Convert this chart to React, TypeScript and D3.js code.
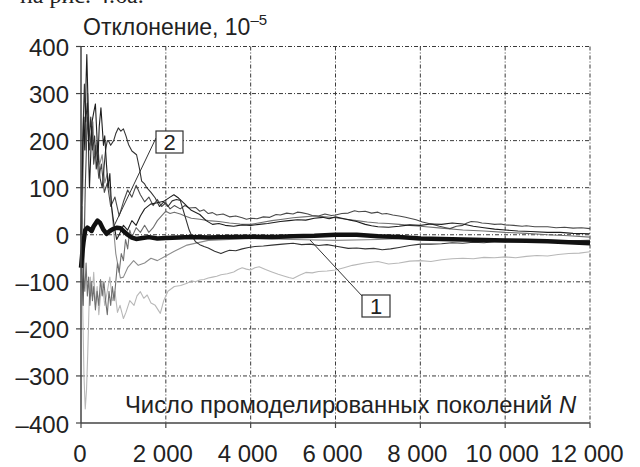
import React from "react";
import * as d3 from "d3";

type P = [number, number];

const xTicks = [0, 2000, 4000, 6000, 8000, 10000, 12000];
const xTickLabels = ["0", "2 000", "4 000", "6 000", "8 000", "10 000", "12 000"];
const yTicks = [400, 300, 200, 100, 0, -100, -200, -300, -400];
const yTickLabels = ["400", "300", "200", "100", "0", "–100", "–200", "–300", "–400"];

// Curve 1: thick line (average)
const seriesThick: P[] = [
  [0, -70], [30, -40], [60, -15], [100, 10], [150, 15], [200, 12], [250, 8], [300, 18], [390, 30], [450, 25],
  [520, 12], [600, 2], [680, 8], [750, 12], [850, 15], [930, 14], [1000, 8], [1100, 0], [1200, -6], [1300, -9],
  [1450, -7], [1600, -5], [1800, -8], [2000, -7], [2300, -6], [2600, -5], [3000, -6], [3500, -5], [4000, -4],
  [4500, -5], [5000, -3], [5500, -2], [6000, 0], [6500, 0], [7000, -3], [7500, -5], [8000, -8], [8500, -9],
  [9000, -10], [9500, -11], [10000, -12], [10500, -13], [11000, -14], [11500, -16], [12000, -18],
];

const seriesA: P[] = [
  [0, 0], [30, 120], [60, 250], [90, 180], [120, 330], [137, 383], [160, 300], [185, 150], [200, 100], [230, 170],
  [260, 240], [300, 260], [340, 278], [370, 220], [400, 160], [430, 230], [470, 270], [500, 230], [530, 190],
  [560, 210], [600, 150], [640, 100], [680, 130], [720, 60], [780, 20], [840, -10], [900, 0], [1000, 20],
  [1100, 10], [1200, 30], [1300, 20], [1400, 40], [1500, 55], [1640, 65], [1800, 68], [1950, 71], [2100, 80],
  [2190, 85], [2300, 78], [2450, 65], [2600, 52], [2800, 43], [2950, 30], [3100, 22], [3250, 24], [3400, 20],
  [3600, 18], [3800, 21], [4000, 20], [4200, 22], [4400, 24], [4550, 26], [4700, 28], [4900, 30], [5100, 32],
  [5300, 31], [5500, 35], [5700, 37], [5850, 34], [6000, 38], [6200, 34], [6350, 31], [6500, 28], [6700, 22],
  [6850, 19], [7000, 17], [7250, 16], [7500, 18], [7750, 21], [8000, 20], [8250, 23], [8500, 22], [8750, 25],
  [9000, 23], [9250, 18], [9500, 15], [9750, 12], [10000, 10], [10300, 8], [10600, 7], [11000, 5], [11300, 5],
  [11600, 3], [12000, 2],
];

const seriesB: P[] = [
  [0, 0], [40, 200], [80, 320], [110, 240], [150, 280], [190, 200], [230, 250], [270, 180], [320, 210],
  [360, 140], [400, 170], [450, 120], [500, 100], [540, 140], [580, 180], [620, 200], [650, 199], [700, 190],
  [770, 200], [820, 215], [880, 227], [940, 220], [1000, 225], [1060, 210], [1120, 192], [1200, 178],
  [1310, 170], [1380, 140], [1430, 114], [1500, 108], [1550, 100], [1650, 90], [1750, 78], [1850, 60],
  [1950, 70], [2050, 60], [2150, 72], [2250, 75], [2340, 73], [2450, 40], [2550, 10], [2600, 0], [2700, -15],
  [2800, -21], [2900, -25], [3000, -28], [3150, -35], [3300, -40], [3400, -36], [3500, -33], [3650, -34],
  [3800, -30], [3950, -27], [4100, -25], [4300, -24], [4500, -22], [4750, -20], [5000, -18], [5200, -21],
  [5400, -20], [5600, -23], [5800, -21], [6050, -25], [6300, -29], [6500, -28], [6700, -30], [6900, -29],
  [7100, -32], [7300, -30], [7500, -27], [7750, -23], [8000, -20], [8250, -20], [8500, -19], [8750, -17],
  [9000, -18], [9250, -16], [9500, -17], [9750, -15], [10000, -15], [10500, -14], [11000, -13], [11500, -13],
  [12000, -12],
];

const seriesE: P[] = [
  [0, 0], [50, -150], [100, 100], [150, 250], [200, 180], [260, 230], [300, 150], [350, 190], [420, 120],
  [480, 150], [550, 90], [620, 110], [700, 60], [800, 80], [900, 40], [1000, 70], [1100, 95], [1200, 80],
  [1300, 105], [1400, 85], [1500, 70], [1600, 80], [1700, 62], [1800, 75], [1900, 60], [2000, 68], [2100, 55],
  [2200, 62], [2340, 55], [2450, 62], [2550, 57], [2700, 58], [2800, 50], [2900, 53], [3000, 45], [3100, 47],
  [3200, 42], [3350, 44], [3500, 38], [3650, 40], [3800, 36], [3900, 33], [4000, 35], [4150, 34], [4300, 38],
  [4450, 37], [4600, 43], [4700, 42], [4850, 46], [5000, 44], [5100, 48], [5200, 47], [5350, 44], [5450, 41],
  [5600, 40], [5750, 44], [5900, 41], [6000, 42], [6150, 45], [6300, 46], [6450, 51], [6550, 49], [6700, 50],
  [6850, 46], [7000, 48], [7100, 44], [7200, 45], [7350, 42], [7500, 40], [7650, 37], [7800, 34], [7900, 32],
  [8050, 27], [8200, 24], [8300, 22], [8450, 18], [8600, 15], [8700, 13], [8850, 18], [9000, 20], [9100, 25],
  [9200, 28], [9350, 27], [9450, 25], [9600, 24], [9750, 22], [9900, 23], [10000, 21], [10200, 20], [10400, 18],
  [10500, 19], [10700, 17], [11000, 17], [11200, 15], [11400, 16], [11600, 14], [11800, 15], [12000, 13],
];

const seriesF: P[] = [
  [0, 0], [30, 60], [60, -80], [90, -120], [120, -60], [150, -130], [180, -90], [210, -150], [240, -100],
  [270, -140], [300, -110], [340, -160], [380, -120], [420, -150], [460, -95], [500, -130], [540, -100],
  [580, -140], [620, -170], [660, -120], [700, -150], [740, -110], [780, -140], [820, -100], [860, -60],
  [900, -80], [950, -40], [1000, -55], [1050, -10], [1100, -30], [1150, 10], [1200, -5], [1300, 15],
  [1400, 5], [1500, 20], [1600, 5], [1700, 15], [1800, 30], [1900, 40], [2000, 50], [2100, 45], [2200, 48],
  [2340, 44], [2450, 40], [2600, 35], [2800, 33], [3000, 30], [3250, 28], [3500, 25], [3750, 23], [4000, 22],
  [4250, 26], [4500, 30], [4750, 33], [5000, 36], [5250, 38], [5500, 40], [5750, 38], [6000, 36], [6250, 33],
  [6500, 30], [6750, 27], [7000, 25], [7250, 24], [7500, 22], [7750, 20], [8000, 18], [8500, 14], [9000, 10],
  [9500, 8], [10000, 5], [10500, 3], [11000, 0], [11500, -2], [12000, -5],
];

const seriesG: P[] = [
  [0, 0], [40, 80], [80, 250], [120, 180], [160, 300], [200, 220], [240, 190], [280, 240], [320, 170],
  [380, 200], [440, 150], [500, 170], [560, 110], [620, 130], [700, 80], [760, 20], [820, -40], [880, -70],
  [930, -92], [1000, -90], [1100, -70], [1240, -55], [1350, -65], [1500, -60], [1650, -50], [1800, -55],
  [2000, -45], [2200, -35], [2500, -22], [3000, -12], [3500, -10], [4000, -8], [5000, -10], [6000, -12],
  [7000, -10], [8000, -7], [9000, -9], [10000, -11], [12000, -13],
];

const seriesD: P[] = [
  [0, 0], [40, -150], [70, -300], [100, -370], [130, -330], [160, -250], [190, -150], [220, -90], [260, -130],
  [300, -80], [340, -150], [380, -110], [420, -170], [460, -130], [500, -100], [560, -150], [620, -120],
  [680, -90], [740, -140], [800, -120], [860, -165], [920, -150], [1000, -178], [1060, -165], [1150, -140],
  [1250, -150], [1320, -130], [1400, -121], [1480, -135], [1560, -128], [1650, -145], [1750, -150],
  [1870, -167], [1950, -140], [2050, -120], [2200, -110], [2350, -108], [2500, -103], [2600, -98], [2700, -100],
  [2800, -96], [2900, -95], [3000, -92], [3100, -90], [3200, -88], [3300, -85], [3450, -83], [3600, -79],
  [3700, -74], [3800, -70], [3900, -73], [4000, -75], [4100, -70], [4200, -68], [4350, -74], [4500, -79],
  [4650, -84], [4800, -88], [4900, -91], [5000, -93], [5150, -86], [5300, -80], [5450, -81], [5600, -78],
  [5800, -77], [6000, -75], [6200, -70], [6400, -65], [6700, -60], [7000, -57], [7250, -62], [7500, -60],
  [7750, -56], [8000, -55], [8250, -57], [8500, -53], [8750, -51], [9000, -50], [9250, -51], [9500, -48],
  [9750, -49], [10000, -47], [10250, -49], [10500, -46], [10750, -44], [11000, -45], [11250, -42], [11500, -40],
  [11750, -39], [12000, -36],
];

const thinSeries: { data: P[]; color: string }[] = [
  { data: seriesD, color: "#b8b8b8" },
  { data: seriesG, color: "#8c8c8c" },
  { data: seriesF, color: "#707070" },
  { data: seriesE, color: "#4a4a4a" },
  { data: seriesB, color: "#333333" },
  { data: seriesA, color: "#1e1e1e" },
];

const W = 640;
const H = 467;
const left = 81;
const right = 590;
const top = 46.5;
const bottom = 423;

export default function App() {
  const x = d3.scaleLinear().domain([0, 12000]).range([left, right]);
  const y = d3.scaleLinear().domain([-400, 400]).range([bottom, top]);
  const line = d3
    .line<P>()
    .x((d) => x(d[0]))
    .y((d) => y(d[1]));

  const font = "'Liberation Sans', Arial, sans-serif";
  const grid = "#3a3a3a";

  return (
    <svg
      width={W}
      height={H}
      viewBox={`0 0 ${W} ${H}`}
      style={{ position: "absolute", left: 0, top: 0, background: "#fff" }}
    >
      <rect x={0} y={0} width={W} height={H} fill="#fff" />
      <text x={20} y={3} fontFamily="'Liberation Serif', serif" fontSize={24} fill="#222">
        на рис. 4.6а.
      </text>

      {/* grid */}
      {yTicks
        .filter((t) => t !== -400)
        .map((t) => (
          <line
            key={"gy" + t}
            x1={left}
            x2={right}
            y1={y(t)}
            y2={y(t)}
            stroke={grid}
            strokeWidth={1}
            strokeDasharray="4,2,1,2"
          />
        ))}
      {xTicks
        .filter((t) => t !== 0)
        .map((t) => (
          <line
            key={"gx" + t}
            x1={x(t)}
            x2={x(t)}
            y1={top}
            y2={bottom}
            stroke={grid}
            strokeWidth={1}
            strokeDasharray="4,2,1,2"
          />
        ))}

      {/* axis label inside plot */}
      <text x={125} y={413} fontFamily={font} fontSize={23.8} fill="#222">
        Число промоделированных поколений <tspan fontStyle="italic">N</tspan>
      </text>

      {/* series */}
      {thinSeries.map((s, i) => (
        <path key={i} d={line(s.data) || ""} fill="none" stroke={s.color} strokeWidth={1.1} strokeLinejoin="round" />
      ))}
      <path d={line(seriesThick) || ""} fill="none" stroke="#111" strokeWidth={4.5} strokeLinejoin="round" />

      {/* axes */}
      <line x1={left} x2={left} y1={top} y2={bottom} stroke="#444" strokeWidth={1.5} />
      <line x1={left} x2={right} y1={bottom} y2={bottom} stroke="#444" strokeWidth={1.5} />
      {yTicks.map((t) => (
        <line key={"ty" + t} x1={left - 5} x2={left} y1={y(t)} y2={y(t)} stroke="#444" strokeWidth={1.2} />
      ))}
      {xTicks.map((t) => (
        <line key={"tx" + t} x1={x(t)} x2={x(t)} y1={bottom} y2={bottom + 5} stroke="#444" strokeWidth={1.2} />
      ))}

      {/* tick labels */}
      {yTicks.map((t, i) => (
        <text
          key={"ly" + t}
          x={69}
          y={y(t) + 1}
          textAnchor="end"
          dominantBaseline="central"
          fontFamily={font}
          fontSize={24}
          fill="#222"
        >
          {yTickLabels[i]}
        </text>
      ))}
      {xTicks.map((t, i) => (
        <text
          key={"lx" + t}
          x={x(t) - (t === 0 ? 1 : 3)}
          y={462}
          textAnchor="middle"
          fontFamily={font}
          fontSize={24}
          fill="#222"
        >
          {xTickLabels[i]}
        </text>
      ))}

      {/* title */}
      <text x={83} y={35} fontFamily={font} fontSize={23} fill="#222">
        Отклонение, 10
        <tspan fontSize={15} dy={-10}>
          –5
        </tspan>
      </text>

      {/* callouts */}
      <line x1={156} y1={138} x2={114} y2={226} stroke="#333" strokeWidth={1} />
      <rect x={156} y={131} width={27} height={22} fill="#fff" stroke="#333" strokeWidth={1.2} />
      <text x={169.5} y={150} textAnchor="middle" fontFamily={font} fontSize={22} fill="#222">
        2
      </text>
      <line x1={363} y1={297} x2={310} y2={240} stroke="#333" strokeWidth={1} />
      <rect x={362} y={295} width={28} height={22} fill="#fff" stroke="#333" strokeWidth={1.2} />
      <text x={376} y={314} textAnchor="middle" fontFamily={font} fontSize={22} fill="#222">
        1
      </text>
    </svg>
  );
}
